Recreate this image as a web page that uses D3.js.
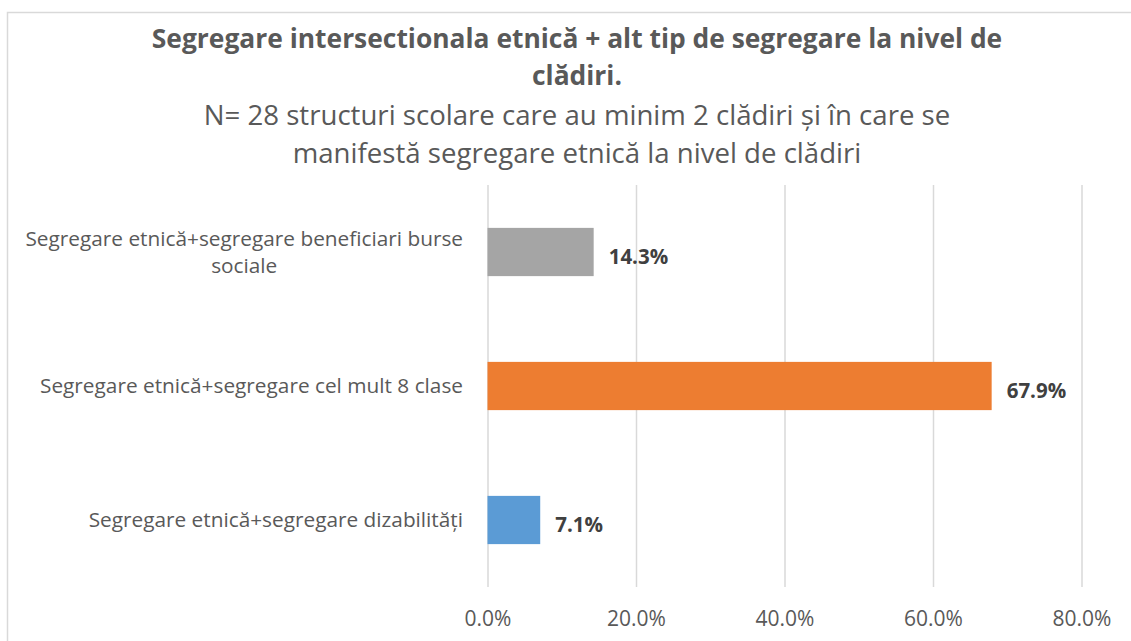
<!DOCTYPE html>
<html>
<head>
<meta charset="utf-8">
<script src="https://cdn.jsdelivr.net/npm/d3@7"></script>
<style>
    body { margin: 0; background: #fff; }
    svg { display: block; }
    text { font-family: "Open Sans", sans-serif; }
</style>
</head>
<body>
<div id="chart"></div>
<script>
// chart values, top to bottom as drawn
const categories = [
    "Segregare etnică+segregare beneficiari burse sociale",
    "Segregare etnică+segregare cel mult 8 clase",
    "Segregare etnică+segregare dizabilități"
];
const values = [0.143, 0.679, 0.071];
const barColors = ["#a5a5a5", "#ed7d31", "#5b9bd5"];
const tickValues = [0, 0.2, 0.4, 0.6, 0.8];
const titleLines = [
    "Segregare intersectionala etnică + alt tip de segregare la nivel de",
    "clădiri."
];
const subtitleLines = [
    "N= 28 structuri scolare care au minim 2 clădiri și în care se",
    "manifestă segregare etnică la nivel de clădiri"
];

const width = 1131;
const height = 641;
const plot = { left: 487.5, right: 1081.5, top: 185, bottom: 587 };
const centerX = 577;

const svg = d3.select("#chart")
    .append("svg")
    .attr("width", width)
    .attr("height", height);

// chart border (right and bottom edges run off the picture)
svg.append("rect")
    .attr("x", 7.5)
    .attr("y", 12.5)
    .attr("width", width)
    .attr("height", height)
    .attr("fill", "none")
    .attr("stroke", "#d9d9d9")
    .attr("stroke-width", 1.5);

const title = svg.append("g").attr("class", "title");
title.selectAll("text.main")
    .data(titleLines)
    .enter()
    .append("text")
    .attr("class", "main")
    .attr("x", centerX)
    .attr("y", (d, i) => 47.5 + i * 37.5)
    .attr("text-anchor", "middle")
    .attr("font-size", 26.4)
    .attr("font-weight", "bold")
    .attr("fill", "#595959")
    .text(d => d);

title.selectAll("text.sub")
    .data(subtitleLines)
    .enter()
    .append("text")
    .attr("class", "sub")
    .attr("x", centerX)
    .attr("y", (d, i) => 125 + i * 38)
    .attr("text-anchor", "middle")
    .attr("font-size", 27.6)
    .attr("fill", "#595959")
    .text(d => d);

const x = d3.scaleLinear()
    .domain([0, 0.8])
    .range([plot.left, plot.right]);

const y = d3.scaleBand()
    .domain(categories)
    .range([plot.top, plot.bottom])
    .paddingInner(0.64)
    .paddingOuter(0.32);

// vertical gridlines
const grid = svg.append("g")
    .attr("transform", "translate(0," + plot.bottom + ")")
    .call(d3.axisBottom(x)
        .tickValues(tickValues)
        .tickSize(-(plot.bottom - plot.top))
        .tickFormat(""));
grid.select(".domain").remove();
grid.selectAll("line")
    .attr("stroke", "#d9d9d9")
    .attr("stroke-width", 1.5);

// x axis labels
const xAxis = svg.append("g")
    .attr("transform", "translate(0,608)")
    .call(d3.axisBottom(x)
        .tickValues(tickValues)
        .tickSize(0)
        .tickPadding(3)
        .tickFormat(d3.format(".1%")));
xAxis.select(".domain").remove();
xAxis.selectAll("text")
    .attr("font-family", "Open Sans, sans-serif")
    .attr("font-size", 21)
    .attr("fill", "#595959");

// bars
svg.append("g")
    .selectAll("rect")
    .data(values)
    .enter()
    .append("rect")
    .attr("x", x(0))
    .attr("y", (d, i) => y(categories[i]))
    .attr("width", d => x(d) - x(0))
    .attr("height", y.bandwidth())
    .attr("fill", (d, i) => barColors[i]);

// value labels
svg.append("g")
    .selectAll("text")
    .data(values)
    .enter()
    .append("text")
    .attr("x", d => x(d) + 15)
    .attr("y", (d, i) => y(categories[i]) + y.bandwidth() / 2)
    .attr("dy", "0.6em")
    .attr("font-size", 20.5)
    .attr("font-weight", "bold")
    .attr("fill", "#404040")
    .text(d => d3.format(".1%")(d));

// category labels, wrapped and right aligned
const labelRight = 463;
const labelWrap = 450;
const lineGap = 27.5;

const labels = svg.append("g")
    .selectAll("text")
    .data(categories)
    .enter()
    .append("text")
    .attr("font-size", 20.8)
    .attr("fill", "#595959");

labels.each(function (d) {
    const el = d3.select(this);
    const words = d.split(" ");
    const lines = [];
    let line = [];
    const probe = el.append("tspan");
    words.forEach(w => {
        line.push(w);
        probe.text(line.join(" "));
        if (probe.node().getComputedTextLength() > labelWrap && line.length > 1) {
            line.pop();
            lines.push(line.join(" "));
            line = [w];
        }
    });
    lines.push(line.join(" "));
    probe.remove();

    const widths = lines.map(l => {
        const t = el.append("tspan").text(l);
        const w = t.node().getComputedTextLength();
        t.remove();
        return w;
    });
    const blockWidth = d3.max(widths);
    const cy = y(d) + y.bandwidth() / 2;
    const firstY = cy - (lines.length - 1) * lineGap / 2;

    el.selectAll("tspan")
        .data(lines)
        .enter()
        .append("tspan")
        .attr("x", labelRight - blockWidth / 2)
        .attr("y", (l, i) => firstY + i * lineGap)
        .attr("dy", "0.36em")
        .attr("text-anchor", "middle")
        .text(l => l);
});
</script>
</body>
</html>
